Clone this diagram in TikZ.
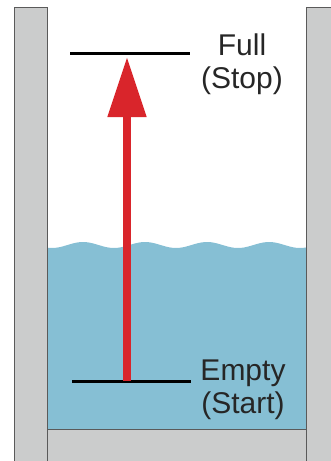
\documentclass[tikz,border=0pt]{standalone}
\usepackage{fontspec}
\setmainfont{Liberation Sans}
\usetikzlibrary{arrows.meta,positioning,calc}
\definecolor{wallgray}{HTML}{CBCCCC}
\definecolor{edgegray}{HTML}{5A5A5A}
\definecolor{water}{HTML}{86BFD4}
\definecolor{fillred}{HTML}{D9252B}
\tikzset{wall/.style={draw=edgegray,fill=wallgray,line width=0.8pt}, level/.style={draw=black,line width=3pt}, rise/.style={-{Triangle[width=37pt,length=60pt]},line width=8pt,draw=fillred,fill=fillred}, tag/.style={font=\fontsize{30}{33}\selectfont,align=center,inner sep=0pt,text=black!85}}
\begin{document}
\begin{tikzpicture}[x=1pt,y=-1pt]
\useasboundingbox (0,0) rectangle (330,461);
% water
\fill[water] (47,429) -- plot[domain=47:306,samples=80,smooth] (\x,{245-3*sin((\x-67.5)*5.806)}) -- (306,429) -- cycle;
% walls and floor
\draw[wall] (14,7) rectangle (47,470);
\draw[wall] (306,7) rectangle (340,470);
\draw[wall] (47,429) rectangle (306,470);
% levels
\coordinate (fullL) at (70,53);
\coordinate (fullR) at (190,53);
\coordinate (emptyL) at (72,381);
\coordinate (emptyR) at (191,381);
\coordinate (top) at (127,57);
\coordinate (bottom) at (127,381);
\draw[level] (fullL)--(fullR);
\draw[level] (emptyL)--(emptyR);
\draw[rise] (bottom)--(top);
\node[tag,anchor=base] (full) at (242,88) {Full\\(Stop)};
\node[tag,anchor=base] (empty) at (243,413) {Empty\\(Start)};
\end{tikzpicture}
\end{document}
